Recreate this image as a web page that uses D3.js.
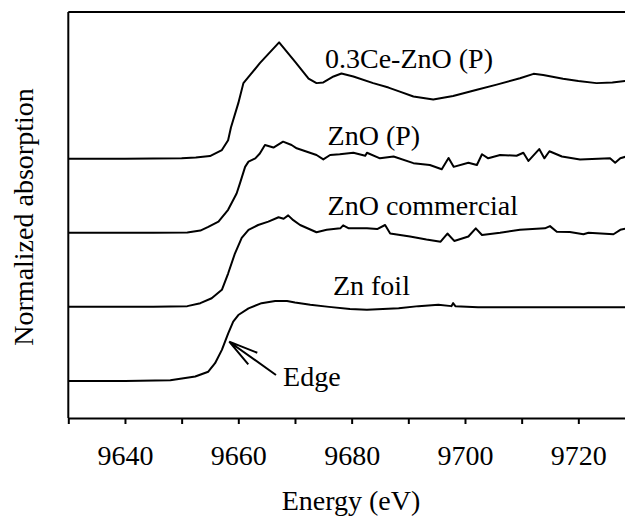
<!DOCTYPE html>
<html>
<head>
<meta charset="utf-8">
<script src="https://cdn.jsdelivr.net/npm/d3@7"></script>
<style>
  body { margin: 0; background: #fff; }
  svg text { font-family: "Liberation Serif", "Times New Roman", Times, "DejaVu Serif", serif; fill: #000; }
</style>
</head>
<body>
<div class="svg-wrap"></div>
<script>
const width = 625;
const height = 517;

// XANES spectra, normalized (0 = pre-edge, 1 = edge jump), stacked by offset
const ceZnoE = [9630, 9640, 9650, 9652.5, 9655.0, 9657.1, 9658.2, 9658.7, 9660.0, 9660.9, 9662.1, 9663.8, 9667.2, 9670.0, 9672.4, 9673.8, 9675.0, 9676.8, 9678.2, 9680.3, 9683.8, 9686.5, 9688.5, 9690.9, 9694.4, 9697.9, 9702.1, 9705.6, 9709.7, 9712.1, 9713.8, 9717.3, 9720, 9723.2, 9726, 9728.5];
const ceZnoMu = [0, 0, 0.005, 0.015, 0.036, 0.117, 0.25, 0.42, 0.75, 1.02, 1.13, 1.29, 1.57, 1.31, 1.08, 1.02, 1.03, 1.11, 1.15, 1.11, 1.02, 0.96, 0.905, 0.84, 0.80, 0.845, 0.93, 1.0, 1.085, 1.145, 1.13, 1.08, 1.05, 1.02, 1.03, 1.05];

const znoPE = [9630, 9645, 9651, 9653.3, 9654.7, 9656.5, 9658.2, 9659.7, 9660.3, 9661.2, 9661.8, 9663.0, 9663.8, 9664.7, 9666.2, 9667.9, 9669.4, 9670.3, 9673.8, 9675.0, 9676.2, 9677.9, 9680.3, 9682.4, 9682.7, 9685.0, 9687.4, 9690.9, 9693.8, 9695.9, 9697.1, 9698.0, 9700.6, 9702.1, 9703.0, 9704.1, 9706.2, 9709.1, 9710.3, 9711.2, 9713.1, 9714.0, 9714.9, 9717.1, 9720.3, 9725.6, 9726.5, 9727.4, 9728.5];
const znoPMu = [0, 0, 0.005, 0.03, 0.08, 0.15, 0.31, 0.53, 0.67, 0.89, 0.96, 1.005, 1.07, 1.185, 1.15, 1.23, 1.185, 1.14, 1.05, 0.99, 1.05, 1.06, 1.08, 1.04, 1.08, 1.005, 1.03, 0.94, 0.915, 0.857, 1.01, 0.89, 0.946, 0.915, 1.06, 1.005, 1.05, 1.04, 1.08, 0.97, 1.13, 1.005, 1.10, 1.03, 0.99, 1.005, 0.946, 1.005, 1.03];

const znoCE = [9630, 9645, 9651, 9653.3, 9655.3, 9657.1, 9658.2, 9659.4, 9660.6, 9661.8, 9663.5, 9665.3, 9667.1, 9668.0, 9668.8, 9669.7, 9670.9, 9673.8, 9675.6, 9678.0, 9678.5, 9679.5, 9682.7, 9684.5, 9685.9, 9686.8, 9690.3, 9693.2, 9695.7, 9696.9, 9698.1, 9700.6, 9701.9, 9703.0, 9706.2, 9709.7, 9714.1, 9715.0, 9716.2, 9718.5, 9720.9, 9721.8, 9726.2, 9727.4, 9728.5];
const znoCMu = [0, 0, 0.01, 0.05, 0.116, 0.23, 0.45, 0.72, 0.93, 1.04, 1.105, 1.15, 1.21, 1.19, 1.235, 1.17, 1.105, 1.007, 1.04, 1.06, 1.10, 1.06, 1.06, 1.05, 1.105, 0.99, 0.95, 0.91, 0.88, 0.99, 0.89, 0.95, 1.06, 0.97, 1.0, 1.04, 1.06, 1.09, 1.015, 1.01, 0.98, 1.0, 0.98, 1.04, 1.06];

const znFoilE = [9630, 9640, 9648, 9652.4, 9654.7, 9655.9, 9657.1, 9658.2, 9659.1, 9660.0, 9661.8, 9664.1, 9666.5, 9668.6, 9670.0, 9672.7, 9676, 9679.7, 9682.7, 9685.5, 9688.3, 9691.8, 9695.3, 9697.6, 9697.9, 9698.3, 9702.3, 9709.4, 9716.4, 9723.4, 9728.5];
const znFoilMu = [0, 0, 0.01, 0.06, 0.125, 0.24, 0.42, 0.64, 0.80, 0.89, 0.98, 1.05, 1.08, 1.08, 1.06, 1.03, 1.0, 0.97, 0.96, 0.97, 0.98, 1.01, 1.03, 1.01, 1.05, 1.01, 0.995, 0.995, 0.995, 0.995, 0.995];

const seriesNames = ["0.3Ce-ZnO (P)", "ZnO (P)", "ZnO commercial", "Zn foil"];
const offsets = [3, 2, 1, 0];
const xTicks = [9630, 9640, 9650, 9660, 9670, 9680, 9690, 9700, 9710, 9720, 9730];

const serif = "'Liberation Serif', 'Times New Roman', Times, 'DejaVu Serif', serif";

let svg = d3.select(".svg-wrap")
  .append("svg")
  .attr("width", width)
  .attr("height", height)
  .attr("font-family", serif)
  .style("background-color", "white");

let x = d3.scaleLinear().domain([9630, 9730]).range([68.3, 635]);
let y = d3.scaleLinear().domain([-0.5, 4.98]).range([418, 12]);

// frame: left axis + top border
svg.append("line")
  .attr("x1", x(9630)).attr("x2", x(9630))
  .attr("y1", y(4.98)).attr("y2", y(-0.5))
  .attr("stroke", "#000").attr("stroke-width", 2);
svg.append("line")
  .attr("x1", x(9630)).attr("x2", width)
  .attr("y1", y(4.98)).attr("y2", y(4.98))
  .attr("stroke", "#000").attr("stroke-width", 2);

let xAxis = d3.axisBottom(x)
  .tickValues(xTicks)
  .tickSize(6)
  .tickSizeOuter(0)
  .tickPadding(21)
  .tickFormat(d => (d % 20 === 0 && d > 9630 && d < 9730) ? d : "");

let gx = svg.append("g")
  .attr("transform", "translate(0," + y(-0.5) + ")")
  .call(xAxis)
  .attr("font-family", serif)
  .attr("font-size", 28);
gx.select(".domain").attr("stroke-width", 2);
gx.selectAll(".tick line").attr("stroke-width", 2);

// curves
let data = [
  [ceZnoE, ceZnoMu],
  [znoPE, znoPMu],
  [znoCE, znoCMu],
  [znFoilE, znFoilMu]
];

let line = d3.line()
  .x(d => x(d[0]))
  .y(d => y(d[1]));

data.forEach(function (s, i) {
  let pts = s[0].map((e, j) => [e, s[1][j] + offsets[i]]);
  svg.append("path")
    .datum(pts)
    .attr("d", line)
    .attr("fill", "none")
    .attr("stroke", "#000")
    .attr("stroke-width", 2)
    .attr("stroke-linejoin", "round");
});

// series labels
const labelE = [9675.3, 9675.75, 9675.75, 9676.7];
const labelY = [4.23, 3.18, 2.235, 1.165];
seriesNames.forEach(function (name, i) {
  svg.append("text")
    .attr("x", x(labelE[i]))
    .attr("y", y(labelY[i]))
    .attr("font-size", 28)
    .text(name);
});

// edge arrow
svg.append("path")
  .attr("d", "M" + x(9666.65) + "," + y(0.08) + "L" + x(9658.4) + "," + y(0.53)
    + "M" + x(9663.35) + "," + y(0.38) + "L" + x(9658.4) + "," + y(0.53)
    + "L" + x(9661.76) + "," + y(0.225))
  .attr("fill", "none")
  .attr("stroke", "#000")
  .attr("stroke-width", 2);

svg.append("text")
  .attr("x", x(9667.9))
  .attr("y", y(-0.07))
  .attr("font-size", 28)
  .text("Edge");

// axis titles
svg.append("text")
  .attr("x", 351)
  .attr("y", 510)
  .attr("text-anchor", "middle")
  .attr("font-size", 28)
  .text("Energy (eV)");

svg.append("text")
  .attr("transform", "rotate(-90)")
  .attr("x", -217)
  .attr("y", 33)
  .attr("text-anchor", "middle")
  .attr("font-size", 28)
  .text("Normalized absorption");
</script>
</body>
</html>
